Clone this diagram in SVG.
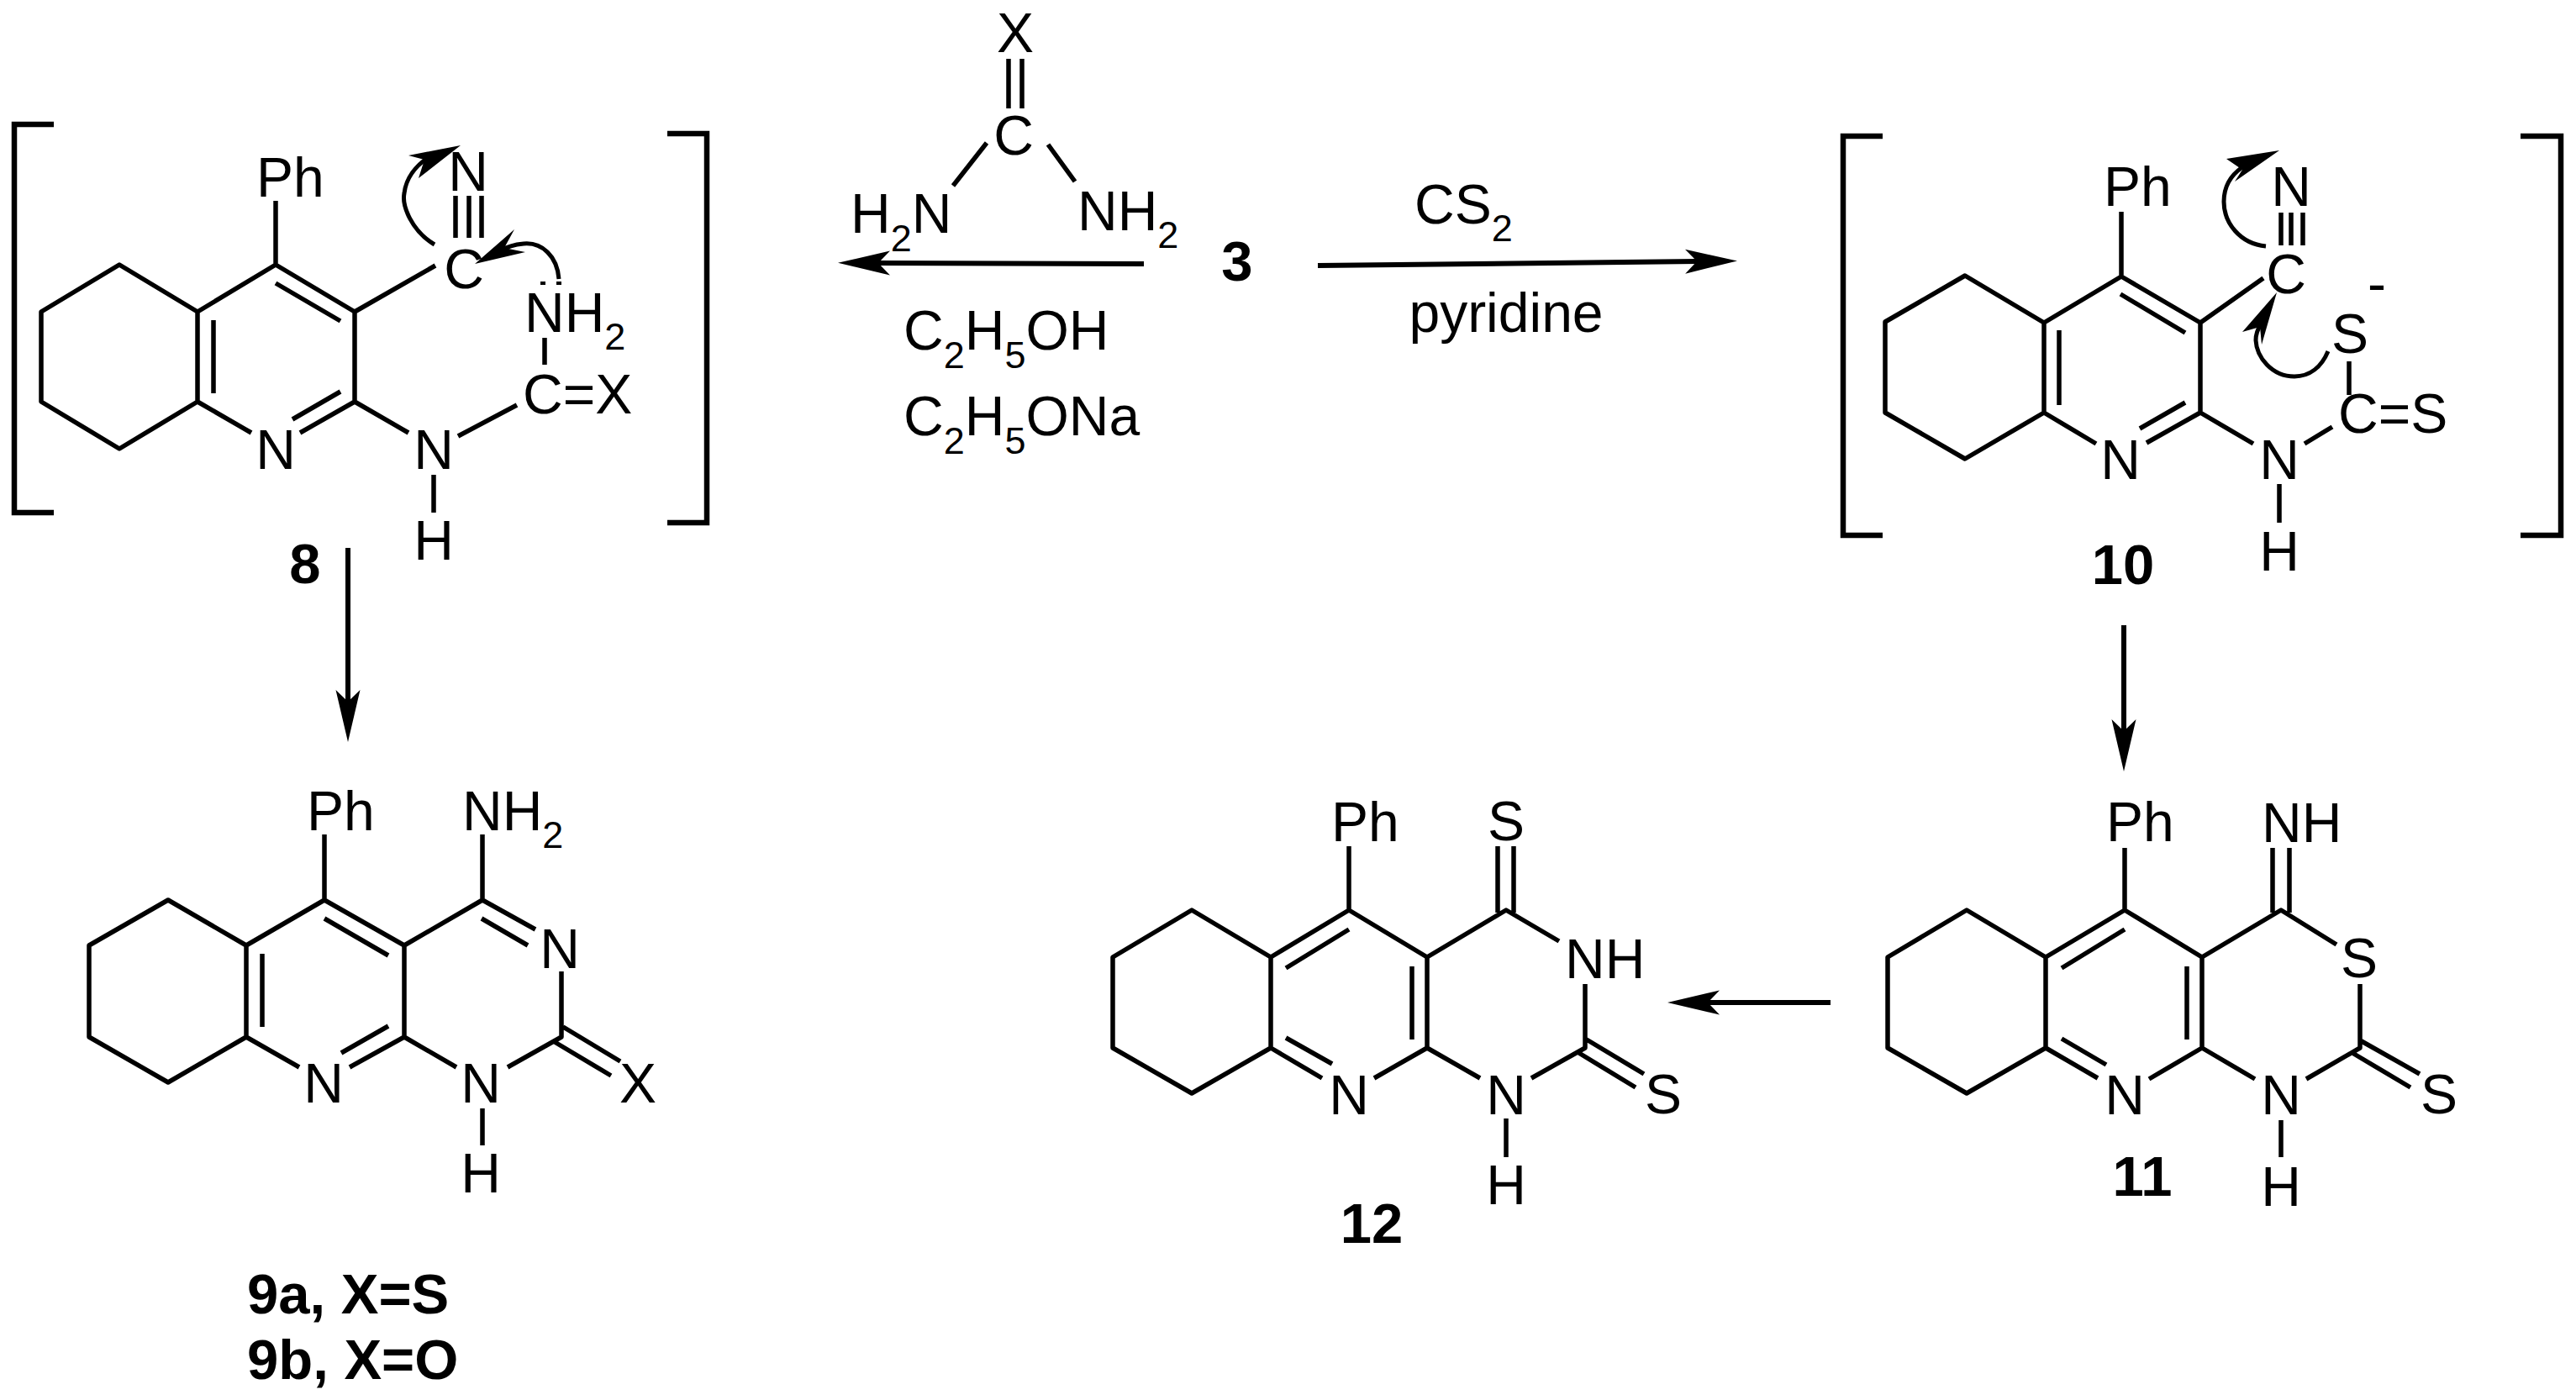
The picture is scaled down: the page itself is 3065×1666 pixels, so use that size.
<svg xmlns="http://www.w3.org/2000/svg" width="3065" height="1666" viewBox="0 0 3065 1666">
<style>
text{font-family:"Liberation Sans",Arial,sans-serif;font-size:66px;fill:#000}
.m{text-anchor:middle}
.l{font-weight:bold;font-size:67px}
.s{font-size:45px}
.b{fill:none;stroke:#000;stroke-width:5.5;stroke-linejoin:round}
.k{fill:none;stroke:#000;stroke-width:6.5}
.c{fill:none;stroke:#000;stroke-width:5}
.r{fill:none;stroke:#000;stroke-width:6;marker-end:url(#head)}
.h{fill:#000}
</style>
<defs>
<marker id="head" markerUnits="userSpaceOnUse" markerWidth="66" markerHeight="32" refX="14" refY="15" orient="auto">
<path d="M62,15L0,0.5L14,15L0,29.5Z" fill="#000"/>
</marker>
</defs>
<rect width="3065" height="1666" fill="#fff"/>
<g id="connectors">
<path class="r" d="M1361,314L1045,313"/>
<path class="r" d="M1568,316L2019,311"/>
<path class="r" d="M414,652L414,835"/>
<path class="r" d="M2527,744L2527,870"/>
<path class="r" d="M2178,1193L2032,1193"/>
<path class="c" d="M517,291C490,275 478,245 481,230C483,212 495,197 510,187"/>
<path class="h" d="M548,173L486,185L505,190L498,212Z"/>
<path class="c" d="M665,332C663,305 645,288 623,290C612,291 604,293 596,298"/>
<path class="h" d="M565,314L612,273L600,295L625,300Z"/>
<path class="c" d="M2696,293C2665,290 2646,265 2646,240C2646,222 2655,208 2668,199"/>
<path class="h" d="M2712,179L2649,189L2668,202L2659,216Z"/>
<path class="c" d="M2770,418C2762,437 2748,448 2730,448C2703,448 2685,425 2684,405C2684,398 2686,392 2690,386"/>
<path class="h" d="M2709,348L2668,395L2689,389L2691,410Z"/>
</g>
<g id="node-8">
<path class="k" d="M64,148H17V610H64"/>
<path class="k" d="M794,159H841V622H794"/>
<path class="b" d="M235,371L142,315L49,371V478L142,534L235,478V371L328,315L422,371V478M254,381V468M328,337L405,382M422,478L357,515M405,466L348,499M235,478L299,515M328,315V239M422,371L518,316M422,478L486,515M516,565V610M545,519L615,482M648,402V434M542,233V283M558,233V283M573,233V283"/>
<path class="h" d="M643,335h6v4h-6zM662,335h6v4h-6z"/>
<text x="305" y="234">Ph</text>
<text class="m" x="557" y="227">N</text>
<text class="m" x="552" y="343">C</text>
<text x="624" y="395">NH<tspan class="s" dy="21">2</tspan></text>
<text x="622" y="492">C=X</text>
<text class="m" x="328" y="558">N</text>
<text class="m" x="516" y="558">N</text>
<text class="m" x="516" y="666">H</text>
<text class="l m" x="363" y="694">8</text>
</g>
<g id="node-urea">
<path class="b" d="M1200,70V129M1216,70V129M1174,170L1134,221M1247,172L1279,216"/>
<text class="m" x="1208" y="62">X</text>
<text class="m" x="1206" y="184">C</text>
<text x="1012" y="277">H<tspan class="s" dy="22">2</tspan><tspan dy="-22">N</tspan></text>
<text x="1282" y="274">NH<tspan class="s" dy="21">2</tspan></text>
</g>
<g id="node-3"><text class="l m" x="1472" y="334">3</text></g>
<g id="reagents-left">
<text x="1075" y="416">C<tspan class="s" dy="22">2</tspan><tspan dy="-22">H</tspan><tspan class="s" dy="22">5</tspan><tspan dy="-22">OH</tspan></text>
<text x="1075" y="518">C<tspan class="s" dy="22">2</tspan><tspan dy="-22">H</tspan><tspan class="s" dy="22">5</tspan><tspan dy="-22">ONa</tspan></text>
</g>
<g id="reagents-right">
<text x="1683" y="266">CS<tspan class="s" dy="21">2</tspan></text>
<text class="m" x="1792" y="395">pyridine</text>
</g>
<g id="node-10">
<path class="k" d="M2240,162H2193V637H2240"/>
<path class="k" d="M2999,162H3047V637H2999"/>
<path class="b" d="M2432,384L2338,328L2243,383V491L2338,546L2432,491V384L2524,329L2618,384V491M2450,393V482M2523,350L2600,396M2618,491L2554,527M2600,479L2546,510M2432,491L2494,528M2524,329V252M2618,384L2693,331M2618,491L2681,528M2712,576V622M2742,528L2775,508M2795,430V470M2714,253V292M2726,253V292M2740,253V292"/>
<text x="2503" y="245">Ph</text>
<text class="m" x="2726" y="245">N</text>
<text class="m" x="2720" y="349">C</text>
<text class="m" x="2828" y="360">-</text>
<text class="m" x="2796" y="420">S</text>
<text x="2782" y="515">C=S</text>
<text class="m" x="2523" y="570">N</text>
<text class="m" x="2712" y="570">N</text>
<text class="m" x="2712" y="679">H</text>
<text class="l m" x="2526" y="695">10</text>
</g>
<g id="node-9">
<path class="b" d="M293,1125L200,1071L106,1125V1234L200,1288L293,1234V1125L386,1071L481,1125V1234M312,1135V1222M386,1093L462,1137M481,1234L416,1270M462,1221L406,1253M293,1234L356,1270M386,993V1071M481,1125L574,1071M574,993V1071M574,1071L637,1106M573,1093L628,1125M668,1156V1234L604,1270M481,1234L543,1270M574,1319V1363M670,1222L738,1263M660,1240L727,1280"/>
<text x="365" y="988">Ph</text>
<text x="550" y="988">NH<tspan class="s" dy="21">2</tspan></text>
<text class="m" x="666" y="1152">N</text>
<text class="m" x="385" y="1312">N</text>
<text class="m" x="572" y="1312">N</text>
<text class="m" x="759" y="1312">X</text>
<text class="m" x="572" y="1419">H</text>
<text class="l" x="294" y="1563">9a, X=S</text>
<text class="l" x="294" y="1641">9b, X=O</text>
</g>
<g id="node-12">
<path class="b" d="M1512,1139L1418,1083L1324,1139V1247L1418,1301L1512,1247V1139L1605,1083L1698,1139V1247M1530,1152L1605,1106M1680,1150V1237M1512,1247L1573,1283M1530,1235L1585,1266M1635,1283L1698,1247L1761,1283M1822,1283L1886,1247V1171M1698,1139L1792,1083L1855,1120M1782,1007V1086M1801,1007V1086M1605,1007V1083M1886,1236L1956,1278M1877,1252L1946,1294M1792,1331V1377"/>
<text x="1584" y="1001">Ph</text>
<text class="m" x="1792" y="1000">S</text>
<text x="1862" y="1164">NH</text>
<text class="m" x="1605" y="1326">N</text>
<text class="m" x="1792" y="1326">N</text>
<text class="m" x="1979" y="1325">S</text>
<text class="m" x="1792" y="1433">H</text>
<text class="l m" x="1632" y="1479">12</text>
</g>
<g id="node-11">
<path class="b" d="M2434,1139L2340,1083L2246,1139V1247L2340,1301L2434,1247V1139L2528,1083L2620,1139V1247M2453,1152L2528,1106M2602,1150V1237M2434,1247L2496,1283M2453,1236L2506,1267M2557,1284L2620,1247L2683,1284M2744,1284L2808,1247V1171M2620,1139L2714,1083L2780,1124M2704,1009V1086M2724,1009V1086M2528,1009V1083M2808,1238L2879,1278M2799,1253L2868,1294M2714,1333V1377"/>
<text x="2506" y="1001">Ph</text>
<text x="2691" y="1002">NH</text>
<text class="m" x="2807" y="1163">S</text>
<text class="m" x="2528" y="1326">N</text>
<text class="m" x="2714" y="1326">N</text>
<text class="m" x="2902" y="1325">S</text>
<text class="m" x="2714" y="1435">H</text>
<text class="l m" x="2549" y="1423">11</text>
</g>
</svg>
